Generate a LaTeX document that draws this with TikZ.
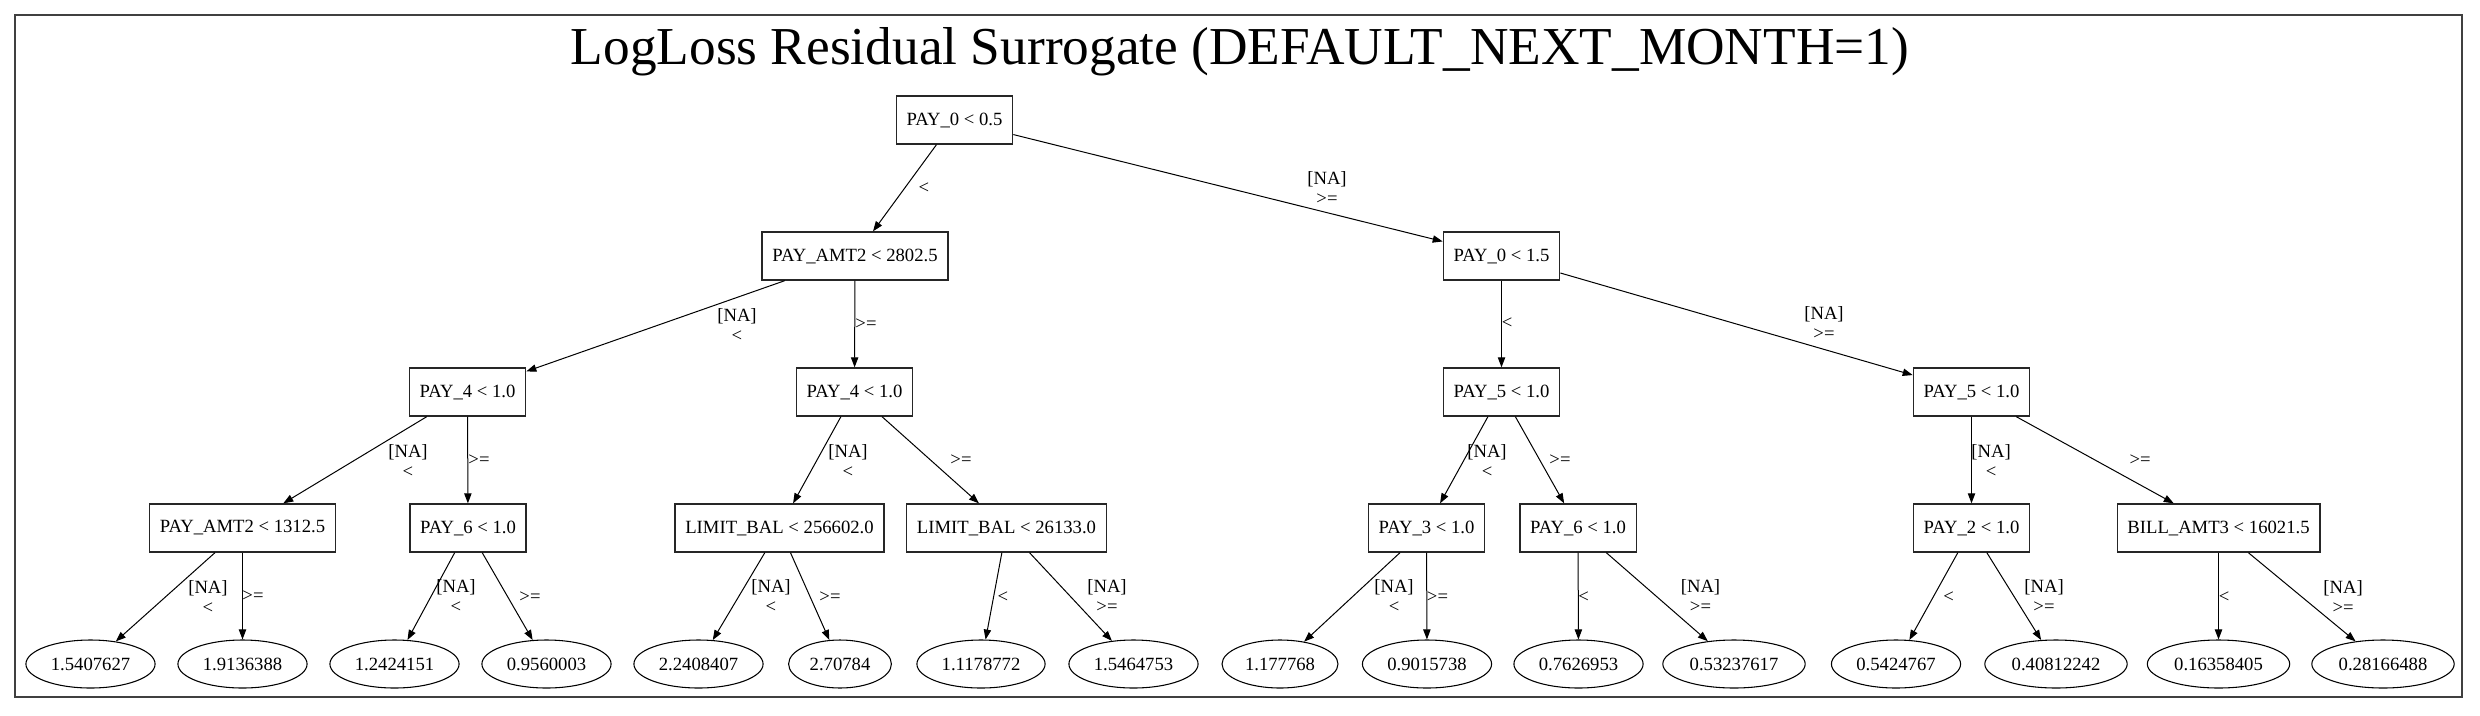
\documentclass[tikz,border=0pt]{standalone}
\usepackage{fontspec}
\setmainfont{Liberation Serif}
\usetikzlibrary{shapes.geometric,arrows.meta}
\begin{document}
\begin{tikzpicture}[x=0.75pt,y=-0.75pt,
  split/.style={draw=black!85, line width=1pt, rectangle, minimum height=36pt, minimum width=54pt, inner xsep=7.7pt, inner ysep=2pt, font=\fontsize{14}{16}\selectfont},
  leaf/.style={draw=black, line width=0.8pt, ellipse, minimum height=36pt, inner xsep=4.5pt, inner ysep=2pt, font=\fontsize{14}{16}\selectfont},
  lbl/.style={inner sep=0pt, align=center, font=\fontsize{14}{15}\selectfont},
  arr/.style={-{Triangle[length=7.5pt,width=5.5pt]}, line width=0.75pt},
  frame/.style={draw=black!75, line width=1.1pt},
]
\useasboundingbox (0,0) rectangle (2480,715);
\draw[frame] (15,15) rectangle (2462,697);
\node[anchor=base, inner sep=0pt, font=\fontsize{40}{48}\selectfont] (title) at (1240,64) {LogLoss Residual Surrogate (DEFAULT\_NEXT\_MONTH=1)};

% split nodes
\node[split] (r) at (954.5,120) {PAY\_0 < 0.5};
\node[split] (a) at (855,256) {PAY\_AMT2 < 2802.5};
\node[split] (b) at (1501.5,256) {PAY\_0 < 1.5};
\node[split] (aa) at (467.5,392) {PAY\_4 < 1.0};
\node[split] (ab) at (854.5,392) {PAY\_4 < 1.0};
\node[split] (ba) at (1501.5,392) {PAY\_5 < 1.0};
\node[split] (bb) at (1971.5,392) {PAY\_5 < 1.0};
\node[split] (aaa) at (242.5,528) {PAY\_AMT2 < 1312.5};
\node[split] (aab) at (468,528) {PAY\_6 < 1.0};
\node[split] (aba) at (779.5,528) {LIMIT\_BAL < 256602.0};
\node[split] (abb) at (1006.5,528) {LIMIT\_BAL < 26133.0};
\node[split] (baa) at (1426.5,528) {PAY\_3 < 1.0};
\node[split] (bab) at (1578,528) {PAY\_6 < 1.0};
\node[split] (bba) at (1971.5,528) {PAY\_2 < 1.0};
\node[split] (bbb) at (2218.5,528) {BILL\_AMT3 < 16021.5};

% leaves
\node[leaf] (l1) at (90.5,664) {1.5407627};
\node[leaf] (l2) at (242.5,664) {1.9136388};
\node[leaf] (l3) at (394.5,664) {1.2424151};
\node[leaf] (l4) at (546.5,664) {0.9560003};
\node[leaf] (l5) at (698.5,664) {2.2408407};
\node[leaf] (l6) at (840,664) {2.70784};
\node[leaf] (l7) at (981,664) {1.1178772};
\node[leaf] (l8) at (1133.5,664) {1.5464753};
\node[leaf] (l9) at (1280,664) {1.177768};
\node[leaf] (l10) at (1427,664) {0.9015738};
\node[leaf] (l11) at (1578.5,664) {0.7626953};
\node[leaf] (l12) at (1734,664) {0.53237617};
\node[leaf] (l13) at (1896,664) {0.5424767};
\node[leaf] (l14) at (2056,664) {0.40812242};
\node[leaf] (l15) at (2218.5,664) {0.16358405};
\node[leaf] (l16) at (2383,664) {0.28166488};

% edges
\draw[arr] (r) -- (a);
\draw[arr] (r) -- (b);
\draw[arr] (a) -- (aa);
\draw[arr] (a) -- (ab);
\draw[arr] (b) -- (ba);
\draw[arr] (b) -- (bb);
\draw[arr] (aa) -- (aaa);
\draw[arr] (aa) -- (aab);
\draw[arr] (ab) -- (aba);
\draw[arr] (ab) -- (abb);
\draw[arr] (ba) -- (baa);
\draw[arr] (ba) -- (bab);
\draw[arr] (bb) -- (bba);
\draw[arr] (bb) -- (bbb);
\draw[arr] (aaa) -- (l1);
\draw[arr] (aaa) -- (l2);
\draw[arr] (aab) -- (l3);
\draw[arr] (aab) -- (l4);
\draw[arr] (aba) -- (l5);
\draw[arr] (aba) -- (l6);
\draw[arr] (abb) -- (l7);
\draw[arr] (abb) -- (l8);
\draw[arr] (baa) -- (l9);
\draw[arr] (baa) -- (l10);
\draw[arr] (bab) -- (l11);
\draw[arr] (bab) -- (l12);
\draw[arr] (bba) -- (l13);
\draw[arr] (bba) -- (l14);
\draw[arr] (bbb) -- (l15);
\draw[arr] (bbb) -- (l16);

% edge labels
\node[lbl] (t1) at (924,188) {<};
\node[lbl] (t2) at (1327,188) {[NA]\\>=};
\node[lbl] (t3) at (737,325) {[NA]\\<};
\node[lbl] (t4) at (866,324) {>=};
\node[lbl] (t5) at (1507,323) {<};
\node[lbl] (t6) at (1824,323) {[NA]\\>=};
\node[lbl] (t7) at (408,461) {[NA]\\<};
\node[lbl] (t8) at (479,460) {>=};
\node[lbl] (t9) at (848,461) {[NA]\\<};
\node[lbl] (t10) at (961,460) {>=};
\node[lbl] (t11) at (1487,461) {[NA]\\<};
\node[lbl] (t12) at (1560,460) {>=};
\node[lbl] (t13) at (1991,461) {[NA]\\<};
\node[lbl] (t14) at (2140,460) {>=};
\node[lbl] (t15) at (208,597) {[NA]\\<};
\node[lbl] (t16) at (253,596) {>=};
\node[lbl] (t17) at (456,596) {[NA]\\<};
\node[lbl] (t18) at (530,597) {>=};
\node[lbl] (t19) at (771,596) {[NA]\\<};
\node[lbl] (t20) at (830,597) {>=};
\node[lbl] (t21) at (1003,597) {<};
\node[lbl] (t22) at (1107,596) {[NA]\\>=};
\node[lbl] (t23) at (1394,596) {[NA]\\<};
\node[lbl] (t24) at (1437.5,597) {>=};
\node[lbl] (t25) at (1583.5,597) {<};
\node[lbl] (t26) at (1700.5,596) {[NA]\\>=};
\node[lbl] (t27) at (1948.5,597) {<};
\node[lbl] (t28) at (2044,596) {[NA]\\>=};
\node[lbl] (t29) at (2224,597) {<};
\node[lbl] (t30) at (2343,597) {[NA]\\>=};
\end{tikzpicture}
\end{document}
